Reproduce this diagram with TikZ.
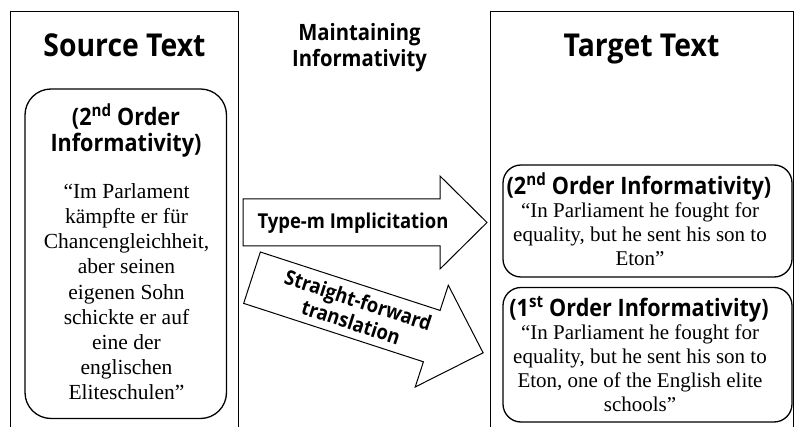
\documentclass[tikz,border=0pt]{standalone}
\usepackage{fontspec}
\setmainfont{Liberation Serif}
\newfontfamily\headfont[FakeStretch=0.9]{Open Sans}
\tikzset{
  frame/.style={draw=black, line width=0.9pt},
  rbox/.style={draw=black, line width=1.3pt, fill=white},
  blockarrow/.style={draw=black, line width=1pt, fill=white, line join=miter},
  title/.style={font=\headfont\bfseries\fontsize{31.5}{36}\selectfont, anchor=base, inner sep=0pt},
  midtitle/.style={font=\headfont\bfseries\fontsize{22.5}{27}\selectfont, anchor=base, inner sep=0pt},
  orderhead/.style={font=\headfont\bfseries\fontsize{24}{28}\selectfont, anchor=base, inner sep=0pt},
  arrowtext/.style={font=\headfont\bfseries\fontsize{20.5}{23}\selectfont, inner sep=0pt, align=center},
  serifL/.style={font=\fontsize{21.5}{25}\selectfont, anchor=base, inner sep=0pt},
  serifR/.style={font=\fontsize{21}{24}\selectfont, anchor=base, inner sep=0pt},
}
\begin{document}
\begin{tikzpicture}[x=1pt, y=-1pt]
\useasboundingbox (0,0) rectangle (795,427);
\clip (0,0) rectangle (795,427);

% outer panels (open at the bottom)
\draw[frame] (10.7,11.7) rectangle (238,445);
\draw[frame] (490,11.7) rectangle (793,445);

% panel titles
\node[title] (srctitle) at (124.5,57) {Source Text};
\node[title] (tgttitle) at (641.5,57) {Target Text};
\node[midtitle] (mid1) at (359.5,41) {Maintaining};
\node[midtitle] (mid2) at (359.5,66.7) {Informativity};

% source text box
\draw[rbox, rounded corners=26pt] (25,89) rectangle (226.5,418.5);
\node[orderhead] (sh1) at (126,126) {(2\textsuperscript{nd} Order};
\node[orderhead] (sh2) at (126,151.7) {Informativity)};
\foreach \t [count=\i] in {“Im Parlament, kämpfte er für, {Chancengleichheit,}, aber seinen,
    eigenen Sohn, schickte er auf, eine der, englischen, Eliteschulen”}
  \node[serifL] (sl\i) at (126.5,{198.3+25.2*(\i-1)}) {\t};

% target text boxes
\draw[rbox, rounded corners=18pt] (503,165) rectangle (792,277);
\node[orderhead] (th1) at (639,194.3) {(2\textsuperscript{nd} Order Informativity)};
\node[serifR] (tu1) at (640,217.3) {“In Parliament he fought for};
\node[serifR] (tu2) at (640,241.5) {equality, but he sent his son to};
\node[serifR] (tu3) at (640,265.8) {Eton”};

\draw[rbox, rounded corners=18pt] (503,287.5) rectangle (792,422);
\node[orderhead] (tl1) at (639,316.7) {(1\textsuperscript{st} Order Informativity)};
\node[serifR] (tl2) at (640,339.5) {“In Parliament he fought for};
\node[serifR] (tl3) at (640,363.5) {equality, but he sent his son to};
\node[serifR] (tl4) at (640,387.5) {Eton, one of the English elite};
\node[serifR] (tl5) at (640,411.5) {schools”};

% horizontal block arrow
\draw[blockarrow] (243,199) -- (440,199) -- (440,176) -- (487,222.5)
  -- (440,269) -- (440,246) -- (243,246) -- cycle;
\node[arrowtext, anchor=base] (typem) at (353,229) {Type-m Implicitation};

% slanted block arrow
\begin{scope}[shift={(252,277.7)}, rotate=-18]
  \draw[blockarrow] (0,-27) -- (189,-27) -- (189,-53.5) -- (243,0)
    -- (189,53.5) -- (189,27) -- (0,27) -- cycle;
  \node[arrowtext, transform shape] (straight) at (108,0) {Straight-forward\\translation};
\end{scope}
\end{tikzpicture}
\end{document}
